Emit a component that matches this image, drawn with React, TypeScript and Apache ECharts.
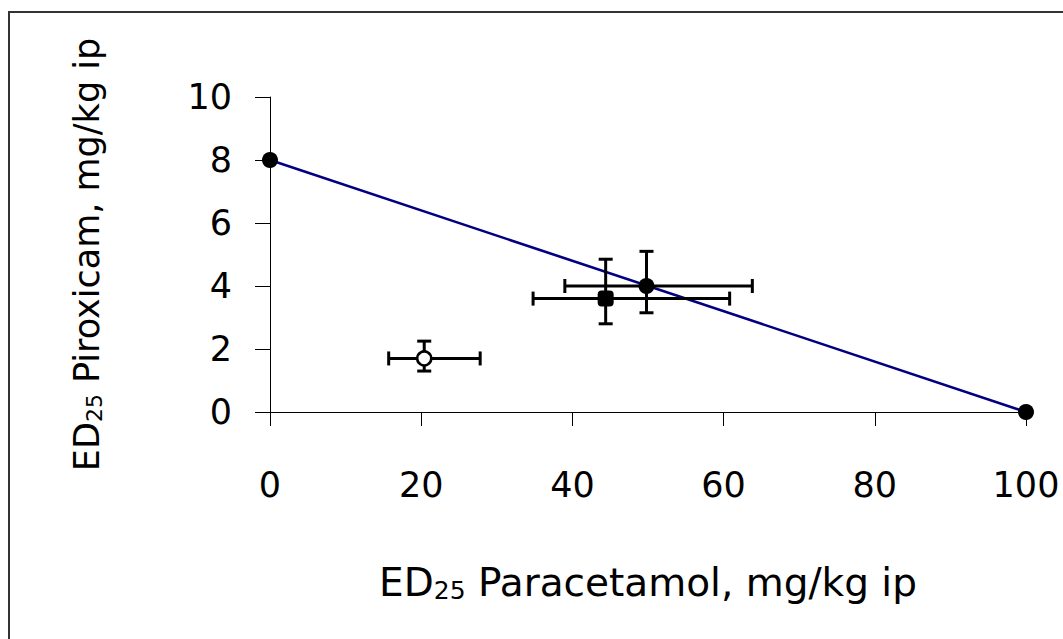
import React, { useEffect, useRef } from "react";
import * as echarts from "echarts";

const xTicks = [0, 20, 40, 60, 80, 100];
const yTicks = [0, 2, 4, 6, 8, 10];
// additivity line: ED25 piroxicam alone (0, 8) to ED25 paracetamol alone (100, 0)
const lineX = [0, 100];
const lineY = [8, 0];
// points: x, y, xLow, xHigh, yLow, yHigh
const theoreticalPoint = [49.8, 4.0, 39.0, 63.8, 3.15, 5.1];
const squarePoint = [44.4, 3.6, 34.8, 60.8, 2.8, 4.85];
const openPoint = [20.4, 1.7, 15.7, 27.8, 1.3, 2.25];

const FONT = "'Comic Sans MS', 'DejaVu Sans', sans-serif";

export default function App() {
  const ref = useRef<HTMLDivElement>(null);
  useEffect(() => {
    if (!ref.current) return;
    const chart = echarts.init(ref.current, undefined, { renderer: "svg" });
    const errData = [theoreticalPoint, squarePoint, openPoint];
    const cap = 7;
    chart.setOption({
      animation: false,
      backgroundColor: "#fff",
      grid: { left: 270, right: 37, top: 97, bottom: 227 },
      graphic: [
        {
          type: "rect",
          shape: { x: 9, y: 12, width: 1200, height: 800 },
          style: { fill: "none", stroke: "#333", lineWidth: 2 },
          z: -1,
        },
      ],
      xAxis: {
        type: "value",
        min: 0,
        max: 100,
        interval: 20,
        splitLine: { show: false },
        axisLine: { onZero: false, lineStyle: { color: "#000", width: 1 } },
        axisTick: { show: true, inside: false, length: 14, lineStyle: { color: "#000" } },
        axisLabel: { margin: 55, fontSize: 35, color: "#000", fontFamily: FONT,
          formatter: (v: number) => (xTicks.includes(v) ? String(v) : "") },
        name: "{n|ED}{s|25}{n| Paracetamol, mg/kg ip}",
        nameLocation: "middle",
        nameGap: 150,
        nameTextStyle: {
          rich: {
            n: { fontSize: 39, fontFamily: FONT, color: "#000" },
            s: { fontSize: 25, fontFamily: FONT, color: "#000", padding: [16, 0, 0, 0] },
          },
        },
      },
      yAxis: {
        type: "value",
        min: 0,
        max: 10,
        interval: 2,
        splitLine: { show: false },
        axisLine: { show: true, lineStyle: { color: "#000", width: 1 } },
        axisTick: { show: true, inside: false, length: 15, lineStyle: { color: "#000" } },
        axisLabel: { margin: 38, fontSize: 35, color: "#000", fontFamily: FONT,
          formatter: (v: number) => (yTicks.includes(v) ? String(v) : "") },
        name: "{n|ED}{s|25}{n| Piroxicam, mg/kg ip}",
        nameLocation: "middle",
        nameGap: 165,
        nameRotate: 90,
        nameTextStyle: {
          rich: {
            n: { fontSize: 35, fontFamily: FONT, color: "#000" },
            s: { fontSize: 22, fontFamily: FONT, color: "#000", padding: [15, 0, 0, 0] },
          },
        },
      },
      series: [
        {
          type: "line",
          data: lineX.map((x, i) => [x, lineY[i]]),
          lineStyle: { color: "#000080", width: 2.6 },
          symbol: "circle",
          symbolSize: 16,
          itemStyle: { color: "#000", opacity: 1 },
          z: 2,
        },
        {
          type: "custom",
          data: errData,
          z: 3,
          renderItem: (params: any, api: any) => {
            const x = api.value(0), y = api.value(1);
            const xl = api.value(2), xh = api.value(3);
            const yl = api.value(4), yh = api.value(5);
            const pL = api.coord([xl, y]);
            const pR = api.coord([xh, y]);
            const pT = api.coord([x, yh]);
            const pB = api.coord([x, yl]);
            const style = { stroke: "#000", lineWidth: 3, fill: "none" };
            return {
              type: "group",
              children: [
                { type: "line", shape: { x1: pL[0], y1: pL[1], x2: pR[0], y2: pR[1] }, style },
                { type: "line", shape: { x1: pL[0], y1: pL[1] - cap, x2: pL[0], y2: pL[1] + cap }, style },
                { type: "line", shape: { x1: pR[0], y1: pR[1] - cap, x2: pR[0], y2: pR[1] + cap }, style },
                { type: "line", shape: { x1: pT[0], y1: pT[1], x2: pB[0], y2: pB[1] }, style },
                { type: "line", shape: { x1: pT[0] - cap, y1: pT[1], x2: pT[0] + cap, y2: pT[1] }, style },
                { type: "line", shape: { x1: pB[0] - cap, y1: pB[1], x2: pB[0] + cap, y2: pB[1] }, style },
              ],
            };
          },
        },
        {
          type: "scatter",
          data: [[theoreticalPoint[0], theoreticalPoint[1]]],
          symbol: "circle",
          symbolSize: 16,
          itemStyle: { color: "#000", opacity: 1 },
          z: 4,
        },
        {
          type: "scatter",
          data: [[squarePoint[0], squarePoint[1]]],
          symbol: "roundRect",
          symbolSize: 16,
          itemStyle: { color: "#000", opacity: 1 },
          z: 4,
        },
        {
          type: "scatter",
          data: [[openPoint[0], openPoint[1]]],
          symbol: "circle",
          symbolSize: 14,
          itemStyle: { color: "#fff", borderColor: "#000", borderWidth: 2.5, opacity: 1 },
          z: 4,
        },
      ],
    });
    return () => chart.dispose();
  }, []);
  return (
    <div
      ref={ref}
      style={{ position: "absolute", left: 0, top: 0, width: 1063, height: 639 }}
    />
  );
}
